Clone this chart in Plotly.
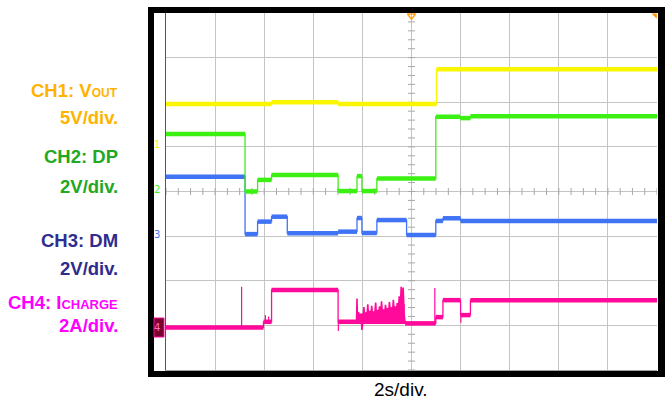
import plotly.graph_objects as go
import numpy as np

# ---------------- data (time in s, 2 s/div, 10 div) ----------------
T_END = 20.0

# CH1: VOUT (V), 5 V/div
CH1_T = [0.0, 4.30, 7.01, 11.02]
CH1_V = [4.8, 5.0, 4.8, 8.7]

# CH2: DP (V), 2 V/div
CH2_T = [0.0, 3.22, 3.73, 4.30, 7.01, 7.78, 7.98, 8.59, 10.99, 11.98, 12.40]
CH2_V = [2.58, 0.0, 0.52, 0.74, 0.02, 0.69, 0.02, 0.58, 3.35, 3.29, 3.37]

# CH3: DM (V), 2 V/div
CH3_T = [0.0, 3.22, 3.73, 4.30, 4.94, 7.01, 7.78, 7.98, 8.59, 9.80, 10.99, 11.28, 12.0]
CH3_V = [2.66, 0.09, 0.65, 0.87, 0.13, 0.20, 0.81, 0.14, 0.72, 0.05, 0.68, 0.80, 0.68]

# CH4: ICHARGE (A), 2 A/div
CH4_T = [0.0, 3.97, 4.30, 7.01, 9.74, 10.99, 11.28, 12.0, 12.40]
CH4_V = [0.0, 0.26, 1.69, 0.26, 0.19, 0.47, 1.23, 0.56, 1.23]
CH4_SPIKE_T = [3.08, 4.05, 4.18, 7.02, 10.95, 12.01]
CH4_SPIKE_BASE = [0.0, 0.26, 0.26, 0.26, 0.19, 0.56]
CH4_SPIKE_PEAK = [1.83, 0.56, 0.50, -0.15, 1.77, 0.22]
# noisy burst: solid envelope plus spikes
CH4_ENV_T = [7.78, 8.00, 8.30, 8.60, 8.90, 9.20, 9.50, 9.72]
CH4_ENV_LO = [0.20, 0.20, 0.20, 0.20, 0.20, 0.20, 0.20, 0.20]
CH4_ENV_HI = [0.55, 0.62, 0.68, 0.72, 0.78, 0.82, 0.92, 1.05]
CH4_BURST_T = [7.76, 7.78, 7.80, 7.84, 7.88, 7.92, 7.96, 7.98, 8.02, 8.06, 8.10, 8.14,
               8.18, 8.22, 8.26, 8.30, 8.34, 8.38, 8.42, 8.46, 8.50, 8.54, 8.58, 8.62,
               8.66, 8.70, 8.74, 8.78, 8.82, 8.86, 8.90, 8.94, 8.98, 9.02, 9.06, 9.10,
               9.14, 9.18, 9.22, 9.26, 9.30, 9.34, 9.38, 9.42, 9.46, 9.50, 9.54, 9.58,
               9.62, 9.66, 9.70, 9.74]
CH4_BURST_V = [0.26, 1.30, 0.30, 0.70, 0.40, 0.62, 0.35, -0.10, 0.30, 0.92, 0.45, 0.68,
               0.40, 1.05, 0.35, 0.75, 0.50, 0.98, 0.40, 0.70, 0.55, 1.12, 0.45, 0.80,
               0.60, 0.95, 0.42, 1.18, 0.55, 0.82, 0.48, 1.02, 0.62, 0.88, 0.50, 1.15,
               0.70, 0.92, 0.58, 1.25, 0.66, 0.95, 0.75, 1.10, 0.62, 1.40, 0.85, 1.83,
               0.95, 1.80, 0.60, 0.22]

MAGENTA = "#FF0A9B"
CHANNELS = [
    # (times, values, units/div, ground offset in div, color)
    (CH4_T, CH4_V, 2.0, -3.05, MAGENTA),
    (CH3_T, CH3_V, 2.0, -1.0, "#4173F5"),
    (CH2_T, CH2_V, 2.0, 0.0, "#3CF014"),
    (CH1_T, CH1_V, 5.0, 1.0, "#FAF500"),
]

# ---------------- geometry helpers ----------------
W, H = 665, 400
ML, MR, MT, MB = 166, 8, 13, 30
PW, PH = W - ML - MR, H - MT - MB


def px_x(px):
    return (px - ML) / PW


def px_y(py):
    return (H - MB - py) / PH


fig = go.Figure()

# graticule minor ticks on the centre lines
fig.add_trace(go.Scatter(x=np.arange(0, T_END + 0.01, 0.5), y=np.zeros(41), mode="markers",
                         marker=dict(symbol="line-ns", size=5, color="#A8A8A8",
                                     line=dict(width=1, color="#A8A8A8")),
                         hoverinfo="skip"))
fig.add_trace(go.Scatter(x=np.full(41, 10.0), y=np.arange(-4, 4.01, 0.2), mode="markers",
                         marker=dict(symbol="line-ew", size=5, color="#A8A8A8",
                                     line=dict(width=1, color="#A8A8A8")),
                         hoverinfo="skip"))

for ts, vs, scale, off, col in CHANNELS:
    ys = [off + v / scale for v in vs]
    # thin step trace (edges)
    fig.add_trace(go.Scatter(x=list(ts) + [T_END], y=ys + [ys[-1]], mode="lines",
                             line=dict(color=col, width=1.3, shape="hv"), hoverinfo="skip"))
    # thick level segments
    sx, sy = [], []
    for i in range(len(ts)):
        t1 = ts[i + 1] if i + 1 < len(ts) else T_END
        sx += [ts[i], t1, None]
        sy += [ys[i], ys[i], None]
    fig.add_trace(go.Scatter(x=sx, y=sy, mode="lines", line=dict(color=col, width=4.5),
                             hoverinfo="skip"))
    if col == MAGENTA:
        bx, by = [], []
        for t, b, p in zip(CH4_SPIKE_T, CH4_SPIKE_BASE, CH4_SPIKE_PEAK):
            bx += [t, t, None]
            by += [off + b / scale, off + p / scale, None]
        fig.add_trace(go.Scatter(x=bx, y=by, mode="lines", line=dict(color=col, width=1.2),
                                 hoverinfo="skip"))
        fig.add_trace(go.Scatter(x=CH4_ENV_T, y=[off + v / scale for v in CH4_ENV_LO],
                                 mode="lines", line=dict(color=col, width=0), hoverinfo="skip"))
        fig.add_trace(go.Scatter(x=CH4_ENV_T, y=[off + v / scale for v in CH4_ENV_HI],
                                 mode="lines", line=dict(color=col, width=1), fill="tonexty",
                                 fillcolor=col, hoverinfo="skip"))
        fig.add_trace(go.Scatter(x=CH4_BURST_T, y=[off + v / scale for v in CH4_BURST_V],
                                 mode="lines", line=dict(color=col, width=1.6), hoverinfo="skip"))

# ground markers (arrow + ground symbol)
GROUND_COLORS = ["#F2F200", "#3CF014", "#4173F5"]
for g, c in zip([1.0, 0.0, -1.0], GROUND_COLORS):
    fig.add_trace(go.Scatter(x=[-0.17], y=[g], mode="markers", cliponaxis=False,
                             marker=dict(symbol="triangle-right", size=7, color=c),
                             hoverinfo="skip"))
    fig.add_trace(go.Scatter(x=[-0.62, -0.62], y=[g - 0.12, g - 0.17], mode="markers",
                             cliponaxis=False,
                             marker=dict(symbol="line-ew", size=6, color=c,
                                         line=dict(width=1, color=c)),
                             hoverinfo="skip"))

# trigger markers
fig.add_trace(go.Scatter(x=[10.0], y=[3.94], mode="markers", cliponaxis=False,
                         marker=dict(symbol="triangle-down-open", size=7, color="#FFA020",
                                     line=dict(color="#FFA020", width=1.5)),
                         hoverinfo="skip"))
fig.add_trace(go.Scatter(x=[19.92], y=[3.95], mode="markers", cliponaxis=False,
                         marker=dict(symbol="triangle-ne", size=6, color="#FF9900"),
                         hoverinfo="skip"))

shapes = []
# black frame
for x0, x1, y0, y1 in [(148, 154, 7, 377), (658, 665, 7, 377), (148, 665, 7, 13), (148, 665, 371, 377)]:
    shapes.append(dict(type="rect", xref="paper", yref="paper", x0=px_x(x0), x1=px_x(x1),
                       y0=px_y(y1), y1=px_y(y0), fillcolor="black", line=dict(width=0),
                       layer="above"))
# CH4 ground box
shapes.append(dict(type="rect", xref="paper", yref="paper", x0=px_x(154), x1=px_x(164),
                   y0=px_y(337), y1=px_y(318), fillcolor="#7A0030",
                   line=dict(width=1, color=MAGENTA), layer="above"))

annotations = []
LAB_X = px_x(120)
labels = [
    ("CH1: V<span style='font-size:12px'>OUT</span>", 90, "#FFB300"),
    ("5V/div.", 117.5, "#FFB300"),
    ("CH2: DP", 156.5, "#22A822"),
    ("2V/div.", 186.5, "#22A822"),
    ("CH3: DM", 240, "#2E2C8E"),
    ("2V/div.", 268, "#2E2C8E"),
    ("CH4: I<span style='font-size:13px'>CHARGE</span>", 302, "#FF00FF"),
    ("2A/div.", 325, "#FF00FF"),
]
for txt, y, c in labels:
    annotations.append(dict(text="<b>" + txt + "</b>", x=LAB_X, y=px_y(y), xref="paper", yref="paper",
                            xanchor="right", yanchor="middle", showarrow=False,
                            font=dict(family="Liberation Sans, Arial, sans-serif", size=18.5, color=c)))
annotations.append(dict(text="2s/div.", x=px_x(401), y=px_y(389), xref="paper", yref="paper",
                        xanchor="center", yanchor="middle", showarrow=False,
                        font=dict(family="Liberation Sans, Arial, sans-serif", size=19, color="black")))
for n, y, c in [("1", 144, "#F2F200"), ("2", 189.5, "#3CF014"), ("3", 234, "#4173F5"), ("4", 327, "#FF6FC0")]:
    annotations.append(dict(text=n, x=px_x(156.5), y=px_y(y), xref="paper", yref="paper",
                            xanchor="center", yanchor="middle", showarrow=False,
                            font=dict(family="DejaVu Sans", size=10, color=c)))

fig.update_layout(
    width=W, height=H, autosize=False,
    margin=dict(l=ML, r=MR, t=MT, b=MB, pad=0),
    paper_bgcolor="white", plot_bgcolor="white",
    showlegend=False,
    shapes=shapes, annotations=annotations,
    xaxis=dict(range=[0, T_END], dtick=2, showticklabels=False, ticks="",
               showgrid=True, gridcolor="#C4C4C4", gridwidth=1.2, zeroline=False,
               showline=True, linecolor="#A0A0A0", linewidth=1, mirror=False, fixedrange=True),
    yaxis=dict(range=[-4, 4], dtick=1, showticklabels=False, ticks="",
               showgrid=True, gridcolor="#C4C4C4", gridwidth=1.2, zeroline=False,
               showline=True, linecolor="#555555", linewidth=1, mirror=False, fixedrange=True),
)

fig.write_html("out.html", config={"displayModeBar": False},
               post_script="document.body.style.margin='0px';")
